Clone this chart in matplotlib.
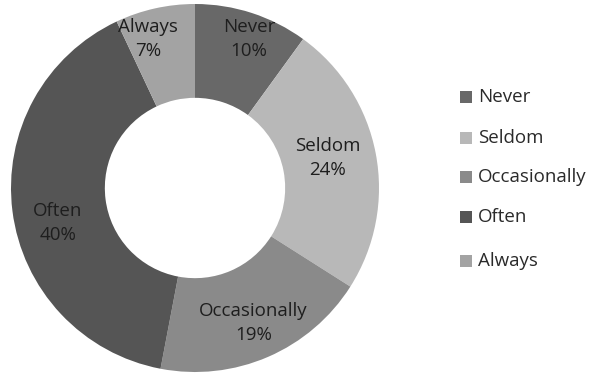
import numpy as np
import matplotlib
matplotlib.use("Agg")
import matplotlib.pyplot as plt
from matplotlib.patches import Rectangle

categories = ["Never", "Seldom", "Occasionally", "Often", "Always"]
shares = [10, 24, 19, 40, 7]
colors = ["#686868", "#b8b8b8", "#8a8a8a", "#555555", "#a3a3a3"]
# radial position of each data label, as a fraction of the outer radius
label_radius = [0.86, 0.74, 0.80, 0.77, 0.85]
label_angle_shift = [-2, 2, 0, 7, 5]

plt.rcParams["font.family"] = ["Open Sans", "DejaVu Sans"]
FS = 13.5

W, H = 596, 374
fig = plt.figure(figsize=(W / 100, H / 100), dpi=100)

cx, cy, R = 195, 186, 184
ax = fig.add_axes([(cx - R) / W, (cy - R) / H, 2 * R / W, 2 * R / H])

wedges, _ = ax.pie(shares, colors=colors, startangle=90, counterclock=False,
                   radius=1.0, wedgeprops=dict(width=0.51, linewidth=0))
ax.set_xlim(-1, 1)
ax.set_ylim(-1, 1)
ax.set_aspect("equal")
ax.axis("off")

total = sum(shares)
for w, name, v, r, da in zip(wedges, categories, shares, label_radius, label_angle_shift):
    ang = np.deg2rad((w.theta1 + w.theta2) / 2 + da)
    ax.text(r * np.cos(ang), r * np.sin(ang), f"{name}\n{round(100 * v / total)}%",
            ha="center", va="center", fontsize=FS, color="#1e1e1e",
            linespacing=1.45)

# legend column on the right
legend_y = [97, 138, 177, 217, 261]
for name, col, y in zip(categories, colors, legend_y):
    fig.add_artist(Rectangle((460 / W, (H - y - 6) / H), 12 / W, 12 / H,
                             transform=fig.transFigure, facecolor=col,
                             edgecolor="none"))
    fig.text(478 / W, (H - y) / H, name, ha="left", va="center",
             fontsize=FS, color="#2a2a2a")

fig.savefig("out.png", dpi=100, facecolor="white")
